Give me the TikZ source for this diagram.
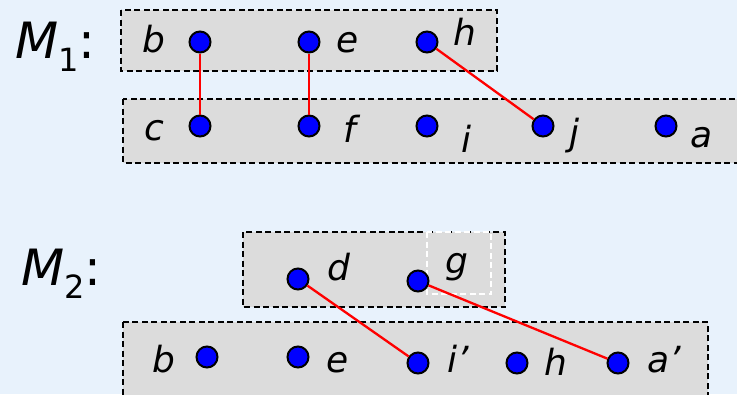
\documentclass[tikz,border=0pt]{standalone}
\usepackage{fontspec}
\setmainfont{DejaVu Sans}
\definecolor{bgc}{HTML}{E8F2FC}
\definecolor{boxc}{HTML}{DCDCDC}
\definecolor{dotc}{HTML}{0000FF}
\begin{document}
\begin{tikzpicture}[x=1pt,y=-1pt,
  grp/.style={draw=black,fill=boxc,line width=2.4pt,dash pattern=on 6pt off 3.5pt},
  dot/.style={circle,draw=black,fill=dotc,line width=2pt,minimum size=21pt,inner sep=0pt},
  lab/.style={anchor=base,inner sep=0pt,font=\fontsize{36}{40}\selectfont\itshape},
  link/.style={draw=red,line width=2.3pt},
  big/.style={anchor=base west,inner sep=0pt,font=\fontsize{50}{56}\selectfont}]
\fill[bgc] (0,0) rectangle (737,394);
\useasboundingbox (0,0) rectangle (737,394);
% M1
\node[big] (m1) at (15,58) {\itshape M\raisebox{-0.26em}{\fontsize{32}{34}\selectfont\upshape 1}\upshape:};
\path[grp] (121,10) rectangle (497,71);
\path[grp] (123,99) rectangle (745,163);
\node[dot] (b1) at (200,42) {};
\node[dot] (e1) at (309,42) {};
\node[dot] (h1) at (427,42) {};
\node[dot] (c1) at (200,126) {};
\node[dot] (f1) at (309,126) {};
\node[dot] (i1) at (427,126) {};
\node[dot] (j1) at (543,126) {};
\node[dot] (a1) at (666,126) {};
\node[lab] (lb1) at (154,52) {b};
\node[lab] (le1) at (348,52) {e};
\node[lab] (lh1) at (465,45) {h};
\node[lab] (lc1) at (154,140) {c};
\node[lab] (lf1) at (350,142) {f};
\node[lab] (li1) at (466,152) {i};
\node[lab] (lj1) at (574,145) {j};
\node[lab] (la1) at (702,147) {a};
% M2
\node[big] (m2) at (21,285) {\itshape M\raisebox{-0.26em}{\fontsize{32}{34}\selectfont\upshape 2}\upshape:};
\path[grp] (243,232) rectangle (505,307);
\draw[white,line width=1.8pt,dash pattern=on 6pt off 3.5pt] (427,232) rectangle (491,294);
\path[grp] (123,322) rectangle (708,400);
\node[dot] (d2) at (298,279) {};
\node[dot] (g2) at (418,281) {};
\node[dot] (b2) at (207,357) {};
\node[dot] (e2) at (298,357) {};
\node[dot] (i2) at (418,363) {};
\node[dot] (h2) at (517,363) {};
\node[dot] (a2) at (618,363) {};
\node[lab] (ld2) at (339,280) {d};
\node[lab] (lg2) at (457,273) {g};
\node[lab] (lb2) at (164,372) {b};
\node[lab] (le2) at (338,372) {e};
\node[lab] (li2) at (458,372) {i’};
\node[lab] (lh2) at (556,375) {h};
\node[lab] (la2) at (664,372) {a’};
% links
\draw[link] (b1) -- (c1);
\draw[link] (e1) -- (f1);
\draw[link] (h1) -- (j1);
\draw[link] (d2) -- (i2);
\draw[link] (g2) -- (a2);
\end{tikzpicture}
\end{document}
